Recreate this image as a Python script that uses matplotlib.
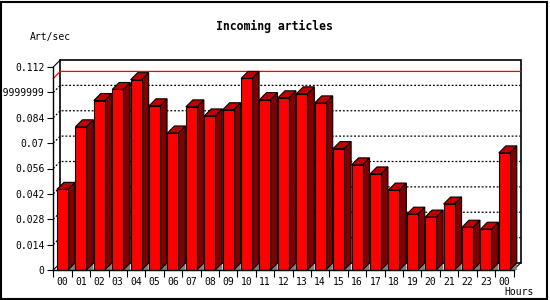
import matplotlib
matplotlib.use("Agg")
import matplotlib.pyplot as plt
from matplotlib.patches import Polygon, Rectangle
from matplotlib.lines import Line2D

hours = ["00", "01", "02", "03", "04", "05", "06", "07", "08", "09", "10", "11",
         "12", "13", "14", "15", "16", "17", "18", "19", "20", "21", "22", "23", "00"]
values = [0.0445, 0.0790, 0.0935, 0.0996, 0.1050, 0.0906, 0.0756, 0.0900, 0.0850,
          0.0884, 0.1057, 0.0940, 0.0950, 0.0972, 0.0922, 0.0670, 0.0580, 0.0530,
          0.0441, 0.0308, 0.0292, 0.0364, 0.0236, 0.0225, 0.0646]
yticks = [0, 0.014, 0.028, 0.042, 0.056, 0.07, 0.084, 0.098, 0.112]
ytick_labels = ["0", "0.014", "0.028", "0.042", "0.056", "0.07", "0.084", "0.09999999", "0.112"]
title = "Incoming articles"
ylabel = "Art/sec"
xlabel = "Hours"

W, H = 550, 300
fig = plt.figure(figsize=(W / 100, H / 100), dpi=100)
fig.patch.set_facecolor("white")

# front plot region in pixels
x0, x1 = 53.3, 513.5
y0, y1 = 270.0, 67.0
ax = fig.add_axes([x0 / W, (H - y0) / H, (x1 - x0) / W, (y0 - y1) / H])
ax.set_facecolor("none")
n = len(values)
ax.set_xlim(-0.5, n - 0.5)
ymax = yticks[-1]
ax.set_ylim(0, ymax)

# pixel -> data conversions for the 3D depth
px_x = n / (x1 - x0)
px_y = ymax / (y0 - y1)
DX = 7 * px_x
DY = 7 * px_y

font = "DejaVu Sans Mono"
lw = 0.8

# back wall / frame
xl, xr = -0.5, n - 0.5
ax.add_patch(Polygon([(xl + DX, DY), (xr + DX, DY), (xr + DX, ymax + DY), (xl + DX, ymax + DY)],
                     closed=True, facecolor="white", edgecolor="black", lw=1.2, clip_on=False, zorder=1))
# floor edges and top-left diagonal
for (a, b) in [((xl, 0), (xl + DX, DY)), ((xr, 0), (xr + DX, DY)), ((xl, ymax), (xl + DX, ymax + DY))]:
    ax.add_line(Line2D([a[0], b[0]], [a[1], b[1]], color="black", lw=lw, clip_on=False, zorder=1))

# dotted grid lines on back wall
for v in yticks[1:-1]:
    ax.add_line(Line2D([xl, xl + DX, xr + DX], [v, v + DY, v + DY], color="black", lw=0.9,
                       linestyle=(0, (1.5, 1.5)), clip_on=False, zorder=2))

# red max line
vmax = max(values)
ax.add_line(Line2D([xl, xl + DX, xr + DX], [vmax, vmax + DY, vmax + DY], color="#ff0000", lw=0.9,
                   clip_on=False, zorder=2))

# 3D bars
hw = 5.5 * px_x
for i, v in enumerate(values):
    l, r = i - hw, i + hw
    z = 3 + i * 0.01
    ax.add_patch(Polygon([(r, 0), (r + DX, DY), (r + DX, 0)], closed=True, facecolor="#808080",
                         edgecolor="none", clip_on=False, zorder=z))
    ax.add_patch(Polygon([(r, 0), (r + DX, DY), (r + DX, v + DY), (r, v)], closed=True,
                         facecolor="#800000", edgecolor="black", lw=lw, clip_on=False, zorder=z))
    ax.add_patch(Polygon([(l, v), (r, v), (r + DX, v + DY), (l + DX, v + DY)], closed=True,
                         facecolor="#c00000", edgecolor="black", lw=lw, clip_on=False, zorder=z))
    ax.add_patch(Rectangle((l, 0), r - l, v, facecolor="#ff0000", edgecolor="black", lw=lw,
                           clip_on=False, zorder=z))

# axes spines and ticks
for s in ["top", "right"]:
    ax.spines[s].set_visible(False)
for s in ["left", "bottom"]:
    ax.spines[s].set_linewidth(1.0)
    ax.spines[s].set_zorder(5)
ax.set_yticks(yticks)
ax.set_yticklabels(ytick_labels, fontfamily=font, fontsize=7)
ax.tick_params(axis="y", direction="out", length=4, width=0.8, pad=2.5)
ax.set_xticks(range(n))
ax.set_xticklabels(hours, fontfamily=font, fontsize=7)
ax.set_xticks([i - 0.5 for i in range(n + 1)], minor=True)
ax.tick_params(axis="x", which="major", length=0, pad=5)
ax.tick_params(axis="x", which="minor", direction="out", length=5, width=0.8)

# texts
fig.text(274 / W, 1 - 26.7 / H, title, ha="center", va="center", fontfamily=font,
         fontsize=8.3, fontweight="bold")
fig.text(30 / W, 1 - 36.7 / H, ylabel, ha="left", va="center", fontfamily=font, fontsize=7)
fig.text(504 / W, 1 - 292.3 / H, xlabel, ha="left", va="center", fontfamily=font, fontsize=7)

# outer border
border = Rectangle((1 / W, 1 / H), 545.5 / W, 297 / H, transform=fig.transFigure,
                   facecolor="none", edgecolor="black", lw=1.5)
fig.patches.append(border)

fig.savefig("out.png", dpi=100)
